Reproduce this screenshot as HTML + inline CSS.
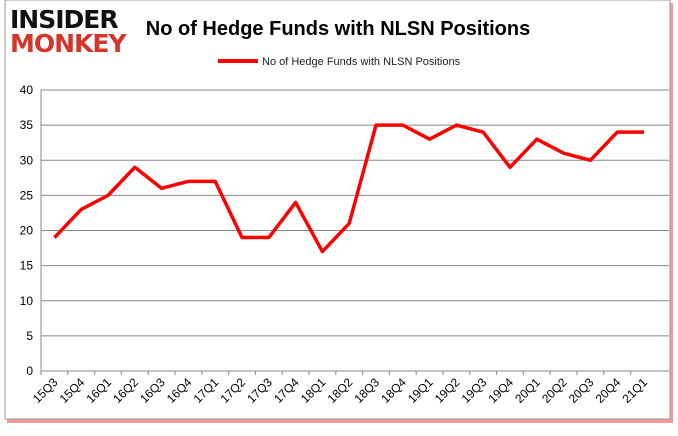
<!DOCTYPE html>
<html><head><meta charset="utf-8"><style>
body{margin:0;background:#fff;width:678px;height:431px;overflow:hidden;font-family:"Liberation Sans",sans-serif}
</style></head><body>
<svg width="678" height="431" xmlns="http://www.w3.org/2000/svg">
<rect x="7" y="3" width="666" height="420" fill="#e33" opacity="0.5"/>
<rect x="5" y="0" width="665" height="419" fill="#fff" stroke="#999"/>
<g>
<text x="10" y="28" font-size="25" font-weight="bold" fill="#111" font-family="'DejaVu Sans',sans-serif" letter-spacing="-1">INSIDER</text>
<text x="10" y="52" font-size="25" font-weight="bold" fill="#d8352a" font-family="'DejaVu Sans',sans-serif" letter-spacing="-1">MONKEY</text>
</g>
<text x="338" y="35" font-size="20" font-weight="bold" text-anchor="middle" fill="#000">No of Hedge Funds with NLSN Positions</text>
<line x1="218" y1="61" x2="258" y2="61" stroke="red" stroke-width="4"/>
<text x="262" y="65" font-size="11" fill="#222">No of Hedge Funds with NLSN Positions</text>
<g id="grid"></g><g id="axes"></g><g id="series"></g>
</svg>
<script>
const categories=["15Q3","15Q4","16Q1","16Q2","16Q3","16Q4","17Q1","17Q2","17Q3","17Q4","18Q1","18Q2","18Q3","18Q4","19Q1","19Q2","19Q3","19Q4","20Q1","20Q2","20Q3","20Q4","21Q1"];
const values=[19,23,25,29,26,27,27,19,19,24,17,21,35,35,33,35,34,29,33,31,30,34,34];
const yTicks=[0,5,10,15,20,25,30,35,40];
const NS="http://www.w3.org/2000/svg";
const L=41,R=669,T=90,B=371,yMax=40,bw=26.8;
const xs=i=>L+bw*(i+0.5);
const ys=v=>B-(v/yMax)*(B-T);
function mk(t,a,p){const e=document.createElementNS(NS,t);for(const k in a)e.setAttribute(k,a[k]);p.appendChild(e);return e;}
const grid=document.getElementById('grid'),axes=document.getElementById('axes'),series=document.getElementById('series');
yTicks.forEach(v=>{
 const g=mk('line',{x1:L,x2:R,y1:ys(v),y2:ys(v),stroke:'#888','stroke-width':1},grid);
 
 
 const t=mk('text',{x:L-8,y:ys(v)+4,'font-size':12,'text-anchor':'end',fill:'#000'},axes);
 t.textContent=v;
 
 
});
const ya=mk('line',{x1:L,x2:L,y1:T,y2:B,stroke:'#888'},axes);


categories.forEach((c,i)=>{
 const tk=mk('line',{x1:L+bw*i,x2:L+bw*i,y1:B,y2:B+4,stroke:'#888'},axes);
 
 
 const x=xs(i)+4,y=B+12;
 const t=mk('text',{x:x,y:y,'font-size':12,'text-anchor':'end',fill:'#000',transform:`rotate(-45 ${x} ${y})`},axes);
 t.textContent=c;
 
 
});
const pl=mk('polyline',{points:values.map((v,i)=>xs(i)+','+ys(v)).join(' '),fill:'none',stroke:'red','stroke-width':3.5,'stroke-linejoin':'round'},series);


</script>
</body></html>
